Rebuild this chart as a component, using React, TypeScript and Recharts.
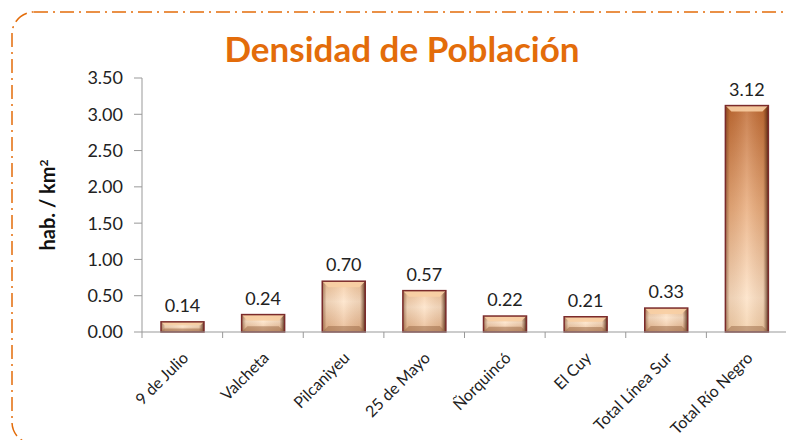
import { BarChart, Bar, XAxis, YAxis, LabelList } from "recharts";

const categories = [
  "9 de Julio",
  "Valcheta",
  "Pilcaniyeu",
  "25 de Mayo",
  "Ñorquincó",
  "El Cuy",
  "Total Línea Sur",
  "Total Río Negro",
];
const densities = [0.14, 0.24, 0.7, 0.57, 0.22, 0.21, 0.33, 3.12];
const yTicks = [0, 0.5, 1, 1.5, 2, 2.5, 3, 3.5];

const data = categories.map((name, i) => ({ name, value: densities[i] }));

const FONT = "Lato, 'Open Sans', sans-serif";
const PLOT_LEFT = 142;
const PLOT_RIGHT = 787;
const BAND = (PLOT_RIGHT - PLOT_LEFT) / categories.length;

function BevelBar(props: any) {
  const { x, y, width, height } = props;
  if (!height || height <= 0) return null;
  const b = Math.min(6, height / 3);
  const body = height > 60 ? "url(#barBody)" : "url(#barBodyShort)";
  return (
    <g>
      <rect x={x} y={y} width={width} height={height} fill={body} />
      <rect x={x} y={y} width={width} height={height} fill="url(#barSide)" />
      <polygon
        points={`${x},${y} ${x + width},${y} ${x + width - b},${y + b} ${x + b},${y + b}`}
        fill="#f8cfa4"
        opacity={0.9}
      />
      <polygon
        points={`${x},${y + height} ${x + width},${y + height} ${x + width - b},${y + height - b} ${x + b},${y + height - b}`}
        fill="#9a6a48"
        opacity={0.5}
      />
      <rect
        x={x}
        y={y}
        width={width}
        height={height}
        fill="none"
        stroke="#7b2b2b"
        strokeWidth={1.5}
      />
    </g>
  );
}

function CategoryTick(props: any) {
  const { x, y, payload, index } = props;
  return (
    <g>
      <line x1={x - BAND / 2} y1={y - 8} x2={x - BAND / 2} y2={y - 2} stroke="#999" />
      {index === categories.length - 1 && (
        <line x1={x + BAND / 2} y1={y - 8} x2={x + BAND / 2} y2={y - 2} stroke="#999" />
      )}
      <text
        x={0}
        y={0}
        transform={`translate(${x + 7},${y + 19}) rotate(-45)`}
        textAnchor="end"
        fontFamily={FONT}
        fontSize={16}
        fill="#222"
      >
        {payload.value}
      </text>
    </g>
  );
}

export default function App() {
  return (
    <div style={{ position: "relative", width: 794, height: 448, margin: -8, background: "#fff" }}>
      <svg width={794} height={448} style={{ position: "absolute", left: 0, top: 0 }}>
        <rect
          x={12}
          y={12}
          width={820}
          height={432}
          rx={22}
          ry={22}
          fill="none"
          stroke="#e36c0a"
          strokeWidth={1.5}
          strokeDasharray="14 5 2 5"
        />
        <text
          x={402}
          y={62}
          textAnchor="middle"
          fontFamily={FONT}
          fontWeight={700}
          fontSize={35}
          fill="#e36c0a"
        >
          Densidad de Población
        </text>
        <text
          transform="translate(55,205) rotate(-90)"
          textAnchor="middle"
          fontFamily={FONT}
          fontWeight={700}
          fontSize={20}
          fill="#111"
        >
          hab. / km<tspan dy={-7} fontSize={12}>2</tspan>
        </text>
      </svg>
      <div style={{ position: "absolute", left: 0, top: 0 }}>
        <BarChart
          width={794}
          height={448}
          data={data}
          margin={{ top: 78, right: 794 - PLOT_RIGHT, bottom: 16, left: PLOT_LEFT - 70 }}
        >
          <defs>
            <linearGradient id="barBody" x1="0" y1="0" x2="0" y2="1">
              <stop offset="0%" stopColor="#c06a32" />
              <stop offset="45%" stopColor="#e9ac7c" />
              <stop offset="85%" stopColor="#fde2c6" />
              <stop offset="100%" stopColor="#f3cfa8" />
            </linearGradient>
            <linearGradient id="barBodyShort" x1="0" y1="0" x2="0" y2="1">
              <stop offset="0%" stopColor="#f3c69c" />
              <stop offset="40%" stopColor="#fde3c8" />
              <stop offset="100%" stopColor="#e6b48a" />
            </linearGradient>
            <linearGradient id="barSide" x1="0" y1="0" x2="1" y2="0">
              <stop offset="0%" stopColor="#5a2a10" stopOpacity={0.55} />
              <stop offset="10%" stopColor="#5a2a10" stopOpacity={0.1} />
              <stop offset="50%" stopColor="#ffffff" stopOpacity={0.15} />
              <stop offset="88%" stopColor="#5a2a10" stopOpacity={0.1} />
              <stop offset="100%" stopColor="#3a1505" stopOpacity={0.8} />
            </linearGradient>
          </defs>
          <XAxis
            dataKey="name"
            height={100}
            interval={0}
            axisLine={{ stroke: "#999" }}
            tickLine={false}
            tick={<CategoryTick />}
          />
          <YAxis
            width={70}
            domain={[0, 3.5]}
            ticks={yTicks}
            interval={0}
            tickFormatter={(v: number) => v.toFixed(2)}
            axisLine={{ stroke: "#999" }}
            tickLine={{ stroke: "#999" }}
            tickSize={8}
            tickMargin={11}
            tick={{ fontFamily: FONT, fontSize: 18, fill: "#222" }}
          />
          <Bar dataKey="value" barSize={43} shape={<BevelBar />} isAnimationActive={false}>
            <LabelList
              dataKey="value"
              position="top"
              offset={10}
              formatter={(v: number) => v.toFixed(2)}
              style={{ fontFamily: FONT, fontSize: 18, fill: "#222" }}
            />
          </Bar>
        </BarChart>
      </div>
    </div>
  );
}
